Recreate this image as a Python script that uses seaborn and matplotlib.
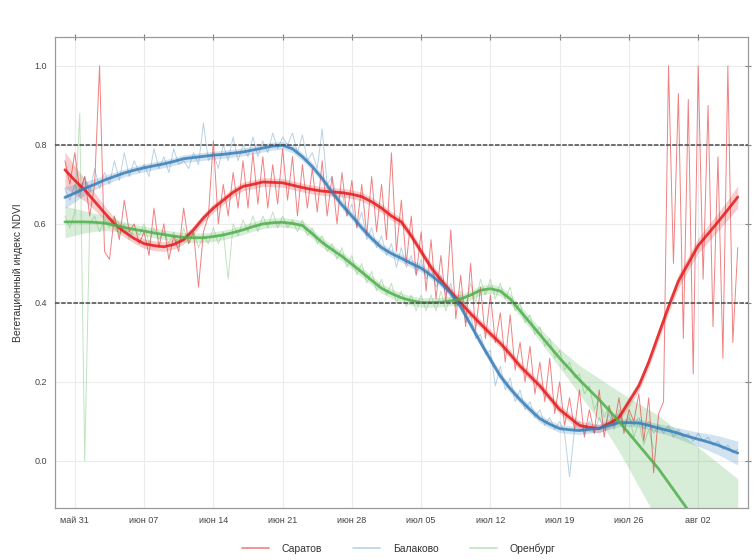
import numpy as np
import pandas as pd
import matplotlib
matplotlib.use("Agg")
import matplotlib.pyplot as plt
from matplotlib.lines import Line2D
import seaborn as sns

# --- series names and colours -------------------------------------------
cities = ["Саратов", "Балаково", "Оренбург"]
colors = ["#E41A1C", "#377EB8", "#4DAF4A"]

# --- raw NDVI observations, every 12 hours starting 30 May ----------------
saratov_raw = [
    .76, .70, .78, .68, .72, .62, .70, 1.00, .53, .51,
    .62, .56, .66, .58, .60, .55, .58, .52, .64, .54,
    .60, .51, .57, .53, .64, .55, .58, .44, .58, .62,
    .81, .60, .70, .62, .73, .64, .76, .64, .78, .65,
    .77, .64, .75, .65, .79, .66, .77, .62, .75, .64,
    .74, .63, .76, .62, .72, .60, .73, .62, .71, .59,
    .70, .57, .72, .58, .70, .56, .78, .53, .66, .50,
    .62, .47, .58, .43, .56, .41, .52, .40, .585, .36,
    .47, .34, .50, .33, .44, .31, .42, .30, .375, .25,
    .37, .23, .30, .20, .29, .17, .25, .15, .26, .12,
    .20, .09, .16, .08, .18, .06, .13, .07, .18, .06,
    .14, .09, .16, .07, .13, .10, .17, .05, .16, -.03,
    .12, .15, 1.00, .50, .93, .31, .915, .22, 1.00, .46,
    .90, .34, .77, .26, 1.00, .30, .54,
]
balakovo_raw = [
    .69, .66, .70, .67, .72, .68, .74, .69, .73, .70,
    .76, .71, .78, .72, .76, .73, .75, .72, .79, .74,
    .77, .73, .79, .75, .76, .74, .78, .75, .855, .76,
    .78, .74, .80, .76, .82, .76, .80, .77, .82, .77,
    .81, .78, .83, .79, .82, .80, .83, .78, .825, .76,
    .78, .74, .84, .70, .72, .66, .68, .62, .65, .59,
    .63, .56, .59, .54, .57, .52, .55, .49, .54, .49,
    .52, .47, .51, .46, .49, .44, .47, .42, .45, .39,
    .42, .35, .37, .31, .32, .27, .28, .19, .24, .18,
    .21, .15, .18, .13, .15, .11, .13, .09, .11, .08,
    .10, .07, -.04, .08, .10, .07, .10, .07, .11, .08,
    .12, .08, .12, .09, .11, .09, .11, .08, .10, .07,
    .09, .07, .09, .06, .08, .06, .07, .05, .07, .05,
    .06, .04, .05, .03, .04, .02, .03,
]
orenburg_raw = [
    .62, .59, .63, .88, .00, .60, .62, .58, .61, .59,
    .62, .57, .60, .56, .59, .57, .60, .55, .59, .56,
    .58, .55, .58, .54, .59, .55, .58, .54, .57, .55,
    .59, .55, .58, .46, .60, .57, .61, .58, .62, .58,
    .62, .59, .63, .59, .62, .59, .61, .58, .61, .57,
    .59, .55, .57, .53, .55, .51, .54, .49, .52, .47,
    .50, .45, .48, .43, .46, .42, .45, .40, .43, .39,
    .42, .38, .42, .38, .42, .38, .43, .38, .42, .39,
    .43, .39, .45, .40, .46, .42, .46, .41, .45, .41,
    .44, .38, .40, .35, .37, .32, .34, .29, .31, .26,
    .28, .23, .25, .21, .22, .17, .19, .13, .16, .11,
    .14, .09, .13, .08, .12, .06, .10, .04, .08, .03,
]

# --- smoothed trend (daily, 30 May - 6 Aug) and its confidence half-width --
saratov_fit = [
    .737, .71, .686, .657, .628, .60, .58, .563, .55, .545,
    .542, .548, .56, .585, .615, .64, .66, .68, .695, .70,
    .706, .705, .704, .698, .692, .687, .683, .681, .679, .675,
    .669, .656, .64, .62, .605, .57, .53, .49, .458, .428,
    .40, .373, .347, .322, .298, .27, .24, .215, .19, .16,
    .13, .11, .09, .085, .082, .095, .11, .15, .19, .25,
    .32, .39, .455, .50, .545, .575, .605, .636, .668,
]
balakovo_fit = [
    .667, .678, .69, .70, .711, .72, .729, .736, .742, .747,
    .752, .758, .765, .768, .771, .774, .776, .779, .782, .787,
    .792, .797, .799, .79, .77, .745, .715, .68, .648, .62,
    .59, .563, .54, .525, .513, .50, .488, .47, .45, .425,
    .39, .345, .30, .257, .215, .183, .155, .13, .107, .093,
    .082, .079, .077, .08, .083, .09, .097, .097, .096, .09,
    .083, .077, .07, .062, .055, .048, .04, .03, .02,
]
orenburg_fit = [
    .605, .605, .605, .604, .602, .597, .591, .586, .582, .577,
    .573, .569, .566, .565, .565, .568, .572, .578, .585, .593,
    .60, .603, .604, .601, .596, .575, .553, .535, .518, .498,
    .478, .457, .437, .424, .413, .406, .401, .401, .402, .405,
    .41, .42, .432, .436, .43, .41, .38, .35, .32, .29,
    .26, .233, .205, .18, .155, .128, .10, .07, .04, .01,
    -.02, -.055, -.09, -.125, -.16, -.195, -.23, -.265, -.30,
]
saratov_se = [
    .045, .036, .028, .022, .018, .015, .013, .012, .012, .012,
    .012, .012, .011, .011, .011, .011, .011, .011, .011, .011,
    .011, .011, .011, .011, .011, .011, .011, .011, .011, .011,
    .011, .011, .011, .011, .011, .011, .011, .011, .011, .011,
    .011, .011, .011, .011, .011, .011, .011, .011, .011, .011,
    .011, .011, .011, .011, .011, .012, .012, .013, .013, .014,
    .015, .016, .017, .018, .019, .021, .023, .025, .028,
]
balakovo_se = [
    .028, .022, .017, .014, .012, .011, .010, .010, .010, .010,
    .010, .010, .010, .010, .010, .010, .010, .010, .010, .010,
    .010, .010, .010, .010, .010, .010, .010, .010, .010, .010,
    .010, .010, .010, .010, .010, .010, .010, .010, .010, .010,
    .010, .010, .010, .010, .010, .010, .010, .010, .010, .010,
    .010, .010, .010, .010, .010, .010, .010, .010, .010, .010,
    .011, .012, .014, .016, .018, .021, .024, .027, .030,
]
orenburg_se = [
    .040, .034, .028, .023, .019, .016, .014, .013, .012, .012,
    .012, .012, .012, .012, .012, .012, .012, .012, .012, .012,
    .012, .012, .012, .012, .012, .012, .012, .012, .012, .012,
    .012, .012, .012, .012, .012, .012, .012, .012, .012, .012,
    .012, .012, .012, .012, .012, .013, .014, .015, .017, .020,
    .024, .030, .037, .045, .054, .064, .076, .090, .105, .120,
    .135, .150, .165, .180, .195, .210, .225, .240, .255,
]

# --- axis ticks -------------------------------------------------------------
tick_dates = ["2021-05-31", "2021-06-07", "2021-06-14", "2021-06-21", "2021-06-28",
              "2021-07-05", "2021-07-12", "2021-07-19", "2021-07-26", "2021-08-02"]
tick_labels = ["май 31", "июн 07", "июн 14", "июн 21", "июн 28",
               "июл 05", "июл 12", "июл 19", "июл 26", "авг 02"]
y_ticks = [0.0, 0.2, 0.4, 0.6, 0.8, 1.0]
y_tick_labels = ["0.0", "0.2", "0.4", "0.6", "0.8", "1.0"]
ref_levels = [0.8, 0.4]

start = pd.Timestamp("2021-05-30")

sns.set_theme(style="white")
plt.rcParams["font.family"] = ["Liberation Sans", "DejaVu Sans"]

fig = plt.figure(figsize=(7.56, 5.60), dpi=100)
ax = fig.add_axes([0.0728, 0.0929, 0.9167, 0.841])

raw_sets = [saratov_raw, balakovo_raw, orenburg_raw]
fit_sets = [saratov_fit, balakovo_fit, orenburg_fit]
se_sets = [saratov_se, balakovo_se, orenburg_se]
raw_alpha = [0.55, 0.35, 0.35]

frames = []
for name, vals in zip(cities, raw_sets):
    frames.append(pd.DataFrame({
        "date": pd.date_range(start, periods=len(vals), freq="12h"),
        "ndvi": vals,
        "city": name,
    }))
raw = pd.concat(frames, ignore_index=True)

# thin raw series
for name, col, a in zip(cities, colors, raw_alpha):
    sub = raw[raw["city"] == name]
    sns.lineplot(data=sub, x="date", y="ndvi", color=col, lw=0.7, alpha=a,
                 estimator=None, sort=False, ax=ax, legend=False)

# smoothed trends with confidence band
for name, col, fit, se in zip(cities, colors, fit_sets, se_sets):
    d = pd.date_range(start, periods=len(fit), freq="D")
    f = np.asarray(fit)
    s = np.asarray(se)
    ax.fill_between(d, f - s, f + s, color=col, alpha=0.22, lw=0)
    sns.lineplot(x=d, y=f, color=col, lw=2.0, alpha=0.85, ax=ax, legend=False)

for lvl in ref_levels:
    ax.axhline(lvl, color="#4a4a4a", lw=1.1, ls=(0, (3, 1)), zorder=5)

ax.set_xlim(pd.Timestamp("2021-05-29"), pd.Timestamp("2021-08-07 01:00"))
ax.set_ylim(-0.119, 1.073)
ax.set_xticks(pd.to_datetime(tick_dates))
ax.set_xticklabels(tick_labels)
ax.set_yticks(y_ticks)
ax.set_yticklabels(y_tick_labels)
ax.grid(True, color="#ececec", lw=0.8)
ax.set_axisbelow(True)
for sp in ax.spines.values():
    sp.set_color("#9a9a9a")
    sp.set_linewidth(0.9)
ax.tick_params(direction="inout", length=4, width=0.8, color="#808080",
               top=True, right=True, labelsize=6.5, labelcolor="#444444", pad=4)
ax.set_xlabel("")
ax.set_ylabel("Вегетационный индекс NDVI", fontsize=7.5, color="#333333", labelpad=8)

handles = [Line2D([0], [0], color=c, lw=1.2, alpha=a) for c, a in zip(colors, raw_alpha)]
fig.legend(handles, cities, loc="center", bbox_to_anchor=(0.527, 0.02), ncol=3,
           frameon=False, fontsize=7.5, handlelength=2.6, handletextpad=1.2,
           columnspacing=3.0, labelcolor="#333333")

fig.savefig("out.png", dpi=100)
